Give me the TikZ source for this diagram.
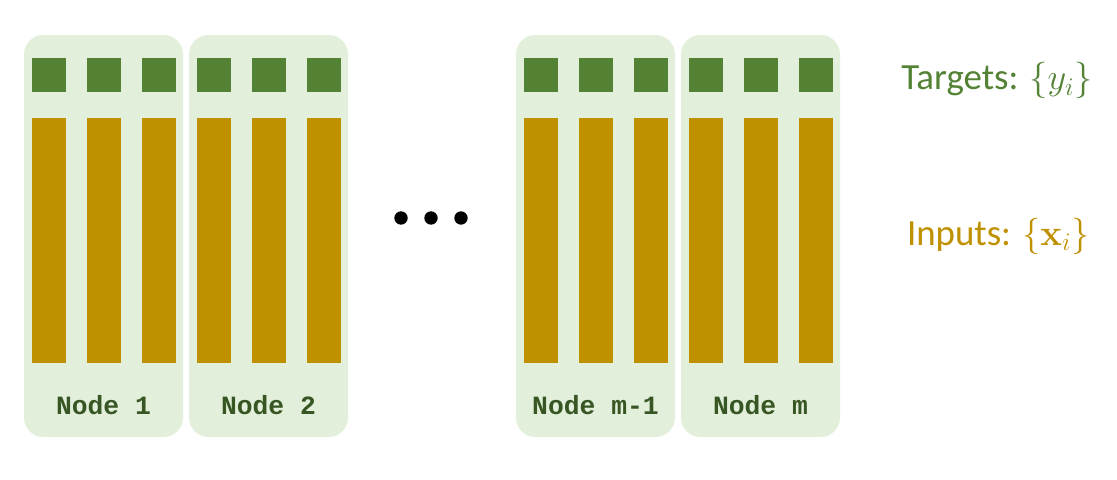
\documentclass[tikz,border=0pt]{standalone}
\usepackage[no-math]{fontspec}
\setmainfont{Carlito}
\newfontfamily\codefont{Liberation Mono}
\definecolor{panelgreen}{HTML}{E2EFDA}
\definecolor{targetgreen}{HTML}{548235}
\definecolor{inputgold}{HTML}{BF9000}
\definecolor{labelgreen}{HTML}{375623}
\tikzset{
  panel/.style={fill=panelgreen, rounded corners=11pt},
  target/.style={fill=targetgreen},
  input/.style={fill=inputgold},
  nodename/.style={font=\codefont\bfseries\fontsize{15}{15}\selectfont, text=labelgreen},
  legend/.style={anchor=base east, inner sep=0pt, font=\fontsize{21}{21}\selectfont}
}
\begin{document}
\begin{tikzpicture}[x=0.02cm, y=-0.02cm]
    \useasboundingbox (0,0) rectangle (1117,480);
    % Draw worker panels
    \fill[panel] (24,35)  rectangle (183,437);
    \fill[panel] (189,35) rectangle (348,437);
    \fill[panel] (516,35) rectangle (675,437);
    \fill[panel] (681,35) rectangle (840,437);
    % Draw targets
    \fill[target] (32,58)  rectangle (66,92);
    \fill[target] (87,58)  rectangle (121,92);
    \fill[target] (142,58) rectangle (176,92);
    \fill[target] (197,58) rectangle (231,92);
    \fill[target] (252,58) rectangle (286,92);
    \fill[target] (307,58) rectangle (341,92);
    \fill[target] (524,58) rectangle (558,92);
    \fill[target] (579,58) rectangle (613,92);
    \fill[target] (634,58) rectangle (668,92);
    \fill[target] (689,58) rectangle (723,92);
    \fill[target] (744,58) rectangle (778,92);
    \fill[target] (799,58) rectangle (833,92);
    % Draw inputs
    \fill[input] (32,118)  rectangle (66,363);
    \fill[input] (87,118)  rectangle (121,363);
    \fill[input] (142,118) rectangle (176,363);
    \fill[input] (197,118) rectangle (231,363);
    \fill[input] (252,118) rectangle (286,363);
    \fill[input] (307,118) rectangle (341,363);
    \fill[input] (524,118) rectangle (558,363);
    \fill[input] (579,118) rectangle (613,363);
    \fill[input] (634,118) rectangle (668,363);
    \fill[input] (689,118) rectangle (723,363);
    \fill[input] (744,118) rectangle (778,363);
    \fill[input] (799,118) rectangle (833,363);
    % Node names
    \node[nodename] (node1)  at (103.5,405) {Node 1};
    \node[nodename] (node2)  at (268.5,405) {Node 2};
    \node[nodename] (nodem1) at (595.5,405) {Node m-1};
    \node[nodename] (nodem)  at (760.5,405) {Node m};
    % Draw dots
    \fill[black] (401,218) circle (6.7);
    \fill[black] (431,218) circle (6.7);
    \fill[black] (461,218) circle (6.7);
    % Legend
    \node[legend, text=targetgreen] (targets) at (1093,90)  {Targets: $\{y_i\}$};
    \node[legend, text=inputgold]   (inputs)  at (1090,245) {Inputs: $\{\mathbf{x}_i\}$};
\end{tikzpicture}
\end{document}
